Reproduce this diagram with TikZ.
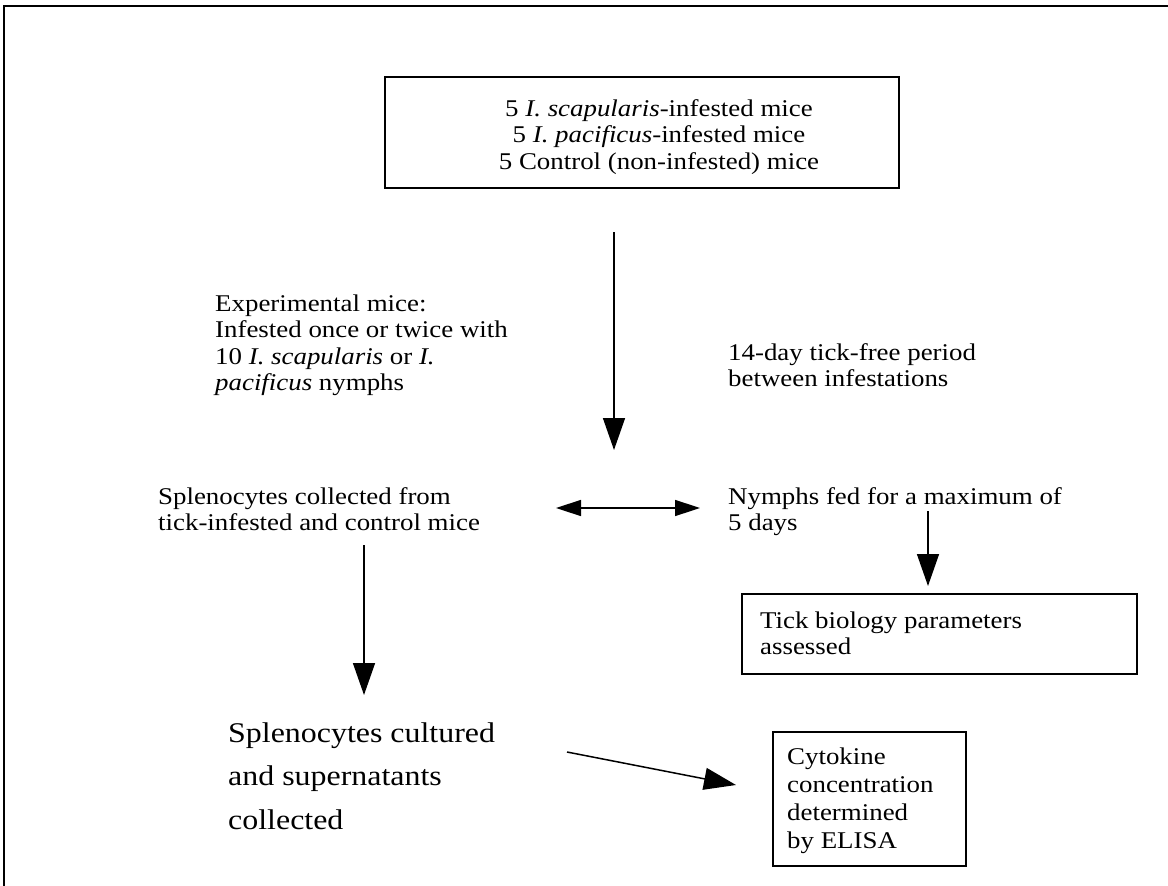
\documentclass[tikz,border=0pt]{standalone}
\usepackage{fontspec}
\setmainfont{Liberation Serif}[FakeStretch=1.12]
\usetikzlibrary{arrows.meta}
\begin{document}
\begin{tikzpicture}[x=1pt,y=-1pt,
  txt/.style={anchor=base west,inner sep=0pt,align=left,font=\fontsize{24}{26.5}\selectfont},
  bigtxt/.style={anchor=base west,inner sep=0pt,align=left,font=\fontsize{28.5}{43.5}\selectfont},
  boxed/.style={draw,line width=1.6pt},
  conn/.style={line width=1.5pt,-{Triangle[length=32pt,width=22pt]}},
  dconn/.style={line width=1.5pt,{Triangle[length=25pt,width=16pt]}-{Triangle[length=25pt,width=16pt]}}]
\useasboundingbox (0,0) rectangle (1168,886);
% outer frame
\draw[line width=2pt] (1168,6) -- (4,6) -- (4,886);
% top box
\node[boxed,minimum width=514pt,minimum height=111pt,inner sep=0pt] (top) at (642,132.5) {};
\node[anchor=base,inner sep=0pt,align=center,font=\fontsize{24}{26.5}\selectfont] (toptxt) at (659,169)
  {5 \textit{I. scapularis}-infested mice\\5 \textit{I. pacificus}-infested mice\\5 Control (non-infested) mice};
% texts (anchored at the baseline of their last line)
\node[txt] (exp) at (215,390.5) {Experimental mice:\\Infested once or twice with\\10 \textit{I. scapularis} or \textit{I.}\\\textit{pacificus} nymphs};
\node[txt] (free) at (728,386.5) {14-day tick-free period\\between infestations};
\node[txt] (spc) at (158,530.5) {Splenocytes collected from\\tick-infested and control mice};
\node[txt] (nym) at (728,530.5) {Nymphs fed for a maximum of\\5 days};
\node[boxed,minimum width=395pt,minimum height=80pt,inner sep=0pt] (tick) at (939.5,634) {};
\node[txt] (ticktxt) at (760,654.5) {Tick biology parameters\\assessed};
\node[bigtxt] (cult) at (228,829) {Splenocytes cultured\\and supernatants\\collected};
\node[boxed,minimum width=193pt,minimum height=134pt,inner sep=0pt] (cyto) at (869.5,799) {};
\node[anchor=base west,inner sep=0pt,align=left,font=\fontsize{24}{27.7}\selectfont] (cytotxt) at (787,848) {Cytokine\\concentration\\determined\\by ELISA};
% arrow end points
\coordinate (a1s) at (614,232);
\coordinate (a1e) at (614,450);
\coordinate (d1) at (556,508);
\coordinate (d2) at (700,508);
\coordinate (a2s) at (928,511);
\coordinate (a2e) at (928,586);
\coordinate (a3s) at (364,545);
\coordinate (a3e) at (364,695);
\coordinate (a4s) at (567,752);
\coordinate (a4e) at (736,785);
\draw[conn] (a1s) -- (a1e);
\draw[dconn] (d1) -- (d2);
\draw[conn] (a2s) -- (a2e);
\draw[conn] (a3s) -- (a3e);
\draw[conn] (a4s) -- (a4e);
\end{tikzpicture}
\end{document}
